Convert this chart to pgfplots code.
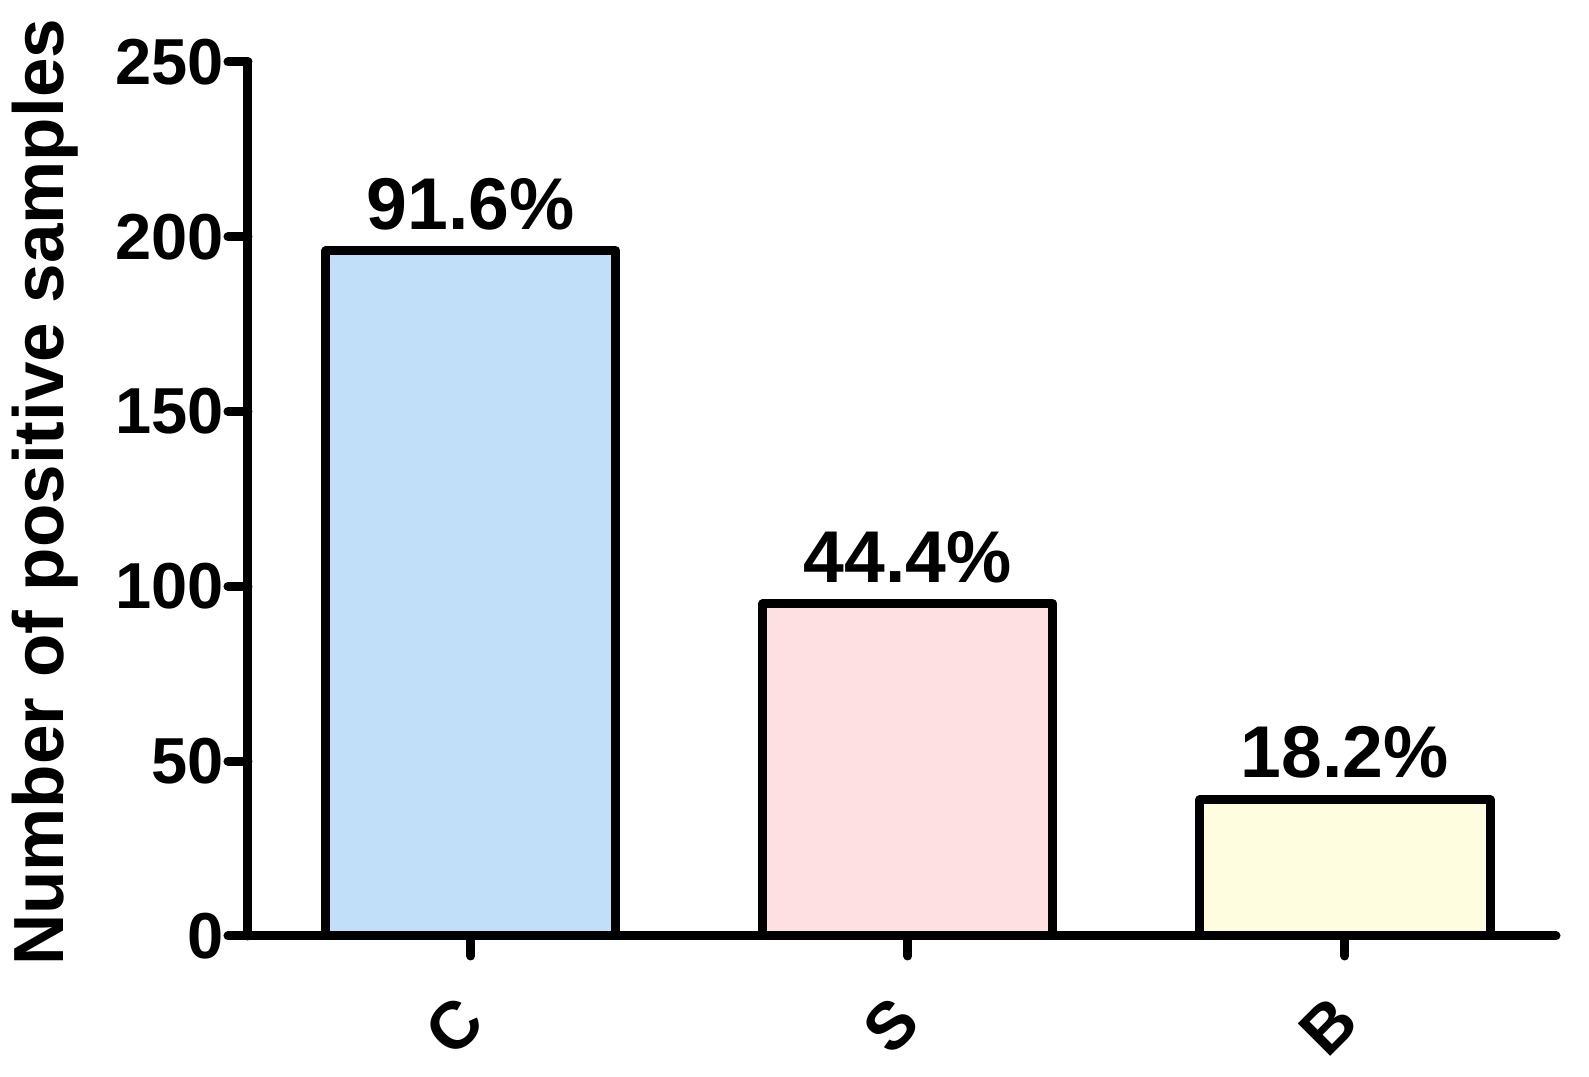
\documentclass[border=0pt]{standalone}
\usepackage{pgfplots}
\pgfplotsset{compat=1.18}
\usepackage{fontspec}
\setmainfont{Liberation Sans}
\definecolor{cblue}{RGB}{193,223,249}
\definecolor{spink}{RGB}{255,224,226}
\definecolor{byel}{RGB}{255,253,224}
\begin{document}
\begin{tikzpicture}
\useasboundingbox (-74.4pt,-42.3pt) rectangle (402.3pt,280.8pt);
\begin{axis}[
  at={(0,0)}, anchor=south west,
  scale only axis,
  width=392.4pt, height=262.2pt,
  xmin=-0.51, xmax=2.483,
  ymin=0, ymax=250,
  ytick={0,50,100,150,200,250},
  xtick={0,1,2},
  xticklabels={C,S,B},
  axis x line*=bottom, axis y line*=left,
  axis line style={line width=2.7pt, line cap=round},
  tick align=outside,
  major tick length=6pt,
  tick style={line width=2.7pt, black, line cap=round},
  /pgf/number format/assume math mode=true,
  yticklabel style={font=\bfseries\fontsize{19.5}{19.5}\selectfont, inner sep=1pt},
  xticklabel style={font=\bfseries\fontsize{20}{20}\selectfont, xshift=-5pt, yshift=-21pt, rotate=45, anchor=center},
  ylabel={Number of positive samples},
  every axis y label/.style={at={(axis description cs:0,0.5)}, xshift=-61pt, yshift=2pt, rotate=90, anchor=center, font=\bfseries\fontsize{21.3}{21.3}\selectfont},
  ybar, bar width=0.664,
  nodes near coords,
  point meta=explicit symbolic,
  every node near coord/.append style={anchor=base, yshift=6.5pt, inner sep=0pt, font=\bfseries\fontsize{22}{22}\selectfont, text=black},
  clip=false,
]
\addplot[bar shift=0pt, fill=cblue, draw=black, line width=2.7pt, line join=round] coordinates {(0,196) [91.6\%]};
\addplot[bar shift=0pt, fill=spink, draw=black, line width=2.7pt, line join=round] coordinates {(1,95) [44.4\%]};
\addplot[bar shift=0pt, fill=byel, draw=black, line width=2.7pt, line join=round] coordinates {(2,39) [18.2\%]};
\end{axis}
\end{tikzpicture}
\end{document}
